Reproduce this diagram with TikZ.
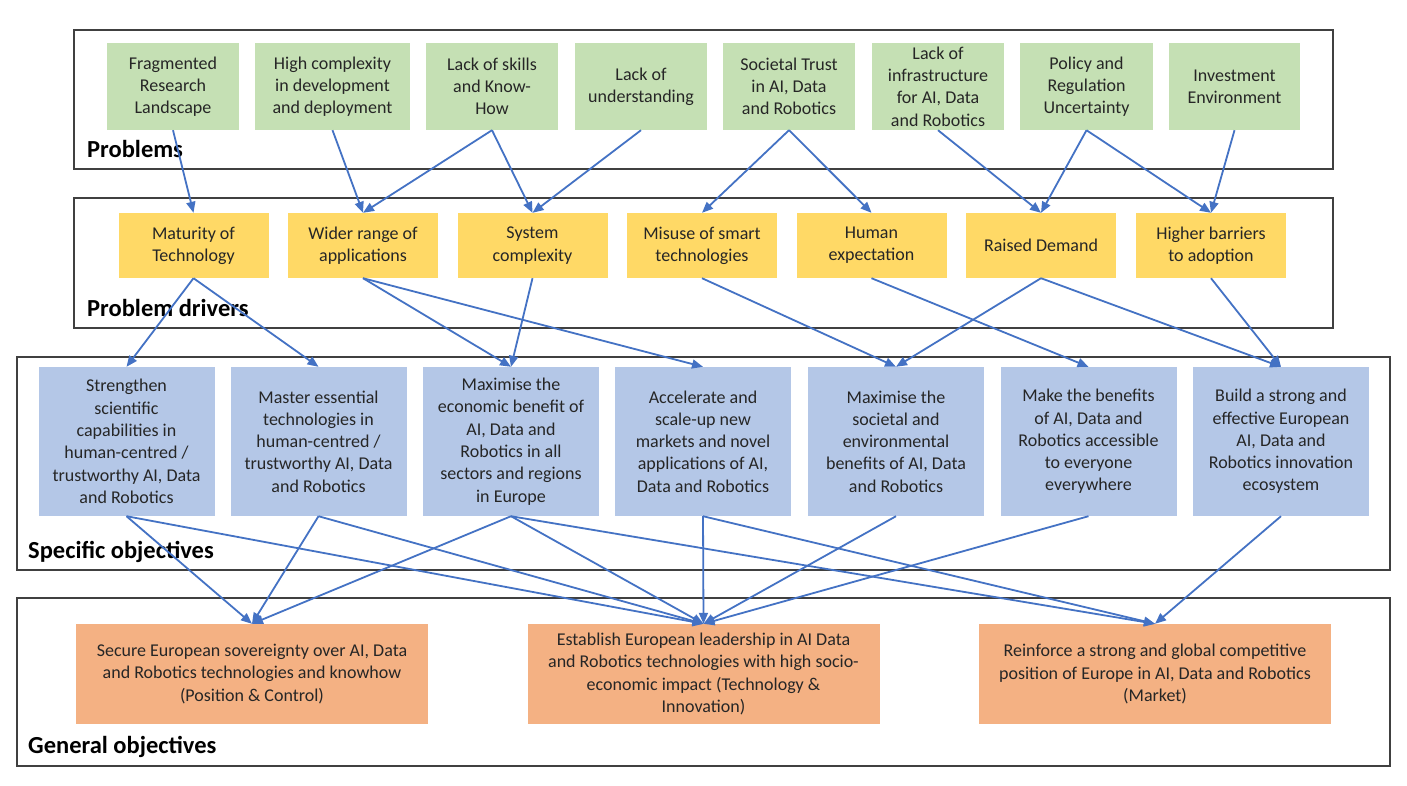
\documentclass[tikz,border=0pt]{standalone}
\usepackage{fontspec}
\setmainfont{Carlito}
\usetikzlibrary{arrows.meta}
\definecolor{pgreen}{HTML}{C5E0B4}
\definecolor{pyellow}{HTML}{FFD966}
\definecolor{pblue}{HTML}{B4C7E7}
\definecolor{porange}{HTML}{F4B183}
\definecolor{arrowblue}{HTML}{4472C4}
\definecolor{framegray}{HTML}{404040}
\definecolor{txt}{HTML}{262626}
\begin{document}
\begin{tikzpicture}[x=1pt,y=-1pt,
  boxbase/.style={rectangle, inner sep=0pt, align=center, text=txt,
    font=\fontsize{18}{22.3}\selectfont},
  probbox/.style={boxbase, fill=pgreen, minimum height=87pt, minimum width=132pt},
  drivbox/.style={boxbase, fill=pyellow, minimum height=65pt, minimum width=150pt},
  specbox/.style={boxbase, fill=pblue, minimum height=149pt, minimum width=176pt},
  genbox/.style={boxbase, fill=porange, minimum height=100pt, minimum width=352pt},
  panel/.style={draw=framegray, line width=1.6pt},
  panellabel/.style={anchor=base west, inner sep=0pt, text=black,
    font=\fontsize{24.5}{28}\selectfont\bfseries},
  link/.style={draw=arrowblue, line width=1.8pt,
    -{Triangle[length=11pt,width=9pt]}}
]
\useasboundingbox (0,0) rectangle (1407,785);
\fill[white] (0,0) rectangle (1407,785);

% panels
\draw[panel] (74,30) rectangle (1333,169);
\draw[panel] (74,198) rectangle (1333,328);
\draw[panel] (17,357) rectangle (1390,570);
\draw[panel] (17,598) rectangle (1390,766);

\node[panellabel] (lprob) at (87,157) {Problems};
\node[panellabel] (ldriv) at (87,316) {Problem drivers};
\node[panellabel] (lspec) at (28,558) {Specific objectives};
\node[panellabel] (lgen) at (28,753) {General objectives};

% problems
\node[probbox] (p1) at (173,86.5) {Fragmented\\Research\\Landscape};
\node[probbox, minimum width=155pt] (p2) at (332.5,86.5) {High complexity\\in development\\and deployment};
\node[probbox] (p3) at (492,86.5) {Lack of skills\\and Know-\\How};
\node[probbox] (p4) at (641,86.5) {Lack of\\understanding};
\node[probbox] (p5) at (789,86.5) {Societal Trust\\in AI, Data\\and Robotics};
\node[probbox] (p6) at (938,86.5) {Lack of\\infrastructure\\for AI, Data\\and Robotics};
\node[probbox, minimum width=133pt] (p7) at (1086.5,86.5) {Policy and\\Regulation\\Uncertainty};
\node[probbox, minimum width=131pt] (p8) at (1234.5,86.5) {Investment\\Environment};

% drivers
\node[drivbox] (d1) at (193.5,245.5) {Maturity of\\Technology};
\node[drivbox] (d2) at (363,245.5) {Wider range of\\applications};
\node[drivbox] (d3) at (532.5,245.5) {System\\complexity};
\node[drivbox] (d4) at (702,245.5) {Misuse of smart\\technologies};
\node[drivbox] (d5) at (871.5,245.5) {Human\\expectation};
\node[drivbox] (d6) at (1041,245.5) {Raised Demand};
\node[drivbox] (d7) at (1211,245.5) {Higher barriers\\to adoption};

% specific objectives
\node[specbox] (s1) at (126.5,441.5) {Strengthen\\scientific\\capabilities in\\human-centred /\\trustworthy AI, Data\\and Robotics};
\node[specbox] (s2) at (318.5,441.5) {Master essential\\technologies in\\human-centred /\\trustworthy AI, Data\\and Robotics};
\node[specbox] (s3) at (511,441.5) {Maximise the\\economic benefit of\\AI, Data and\\Robotics in all\\sectors and regions\\in Europe};
\node[specbox] (s4) at (703,441.5) {Accelerate and\\scale-up new\\markets and novel\\applications of AI,\\Data and Robotics};
\node[specbox] (s5) at (896,441.5) {Maximise the\\societal and\\environmental\\benefits of AI, Data\\and Robotics};
\node[specbox] (s6) at (1088.5,441.5) {Make the benefits\\of AI, Data and\\Robotics accessible\\to everyone\\everywhere};
\node[specbox] (s7) at (1281,441.5) {Build a strong and\\effective European\\AI, Data and\\Robotics innovation\\ecosystem};

% general objectives
\node[genbox] (g1) at (252,674) {Secure European sovereignty over AI, Data\\and Robotics technologies and knowhow\\(Position \& Control)};
\node[genbox] (g2) at (703.5,674) {Establish European leadership in AI Data\\and Robotics technologies with high socio-\\economic impact (Technology \&\\Innovation)};
\node[genbox] (g3) at (1155,674) {Reinforce a strong and global competitive\\position of Europe in AI, Data and Robotics\\(Market)};

% problems -> drivers
\foreach \a/\b in {p1/d1,p2/d2,p3/d2,p3/d3,p4/d3,p5/d4,p5/d5,p6/d6,p7/d6,p7/d7,p8/d7}
  \draw[link] (\a.south) -- (\b.north);
% drivers -> specific
\foreach \a/\b in {d1/s1,d1/s2,d2/s3,d2/s4,d3/s3,d4/s5,d5/s6,d6/s5,d6/s7,d7/s7}
  \draw[link] (\a.south) -- (\b.north);
% specific -> general
\foreach \a/\b in {s1/g1,s1/g2,s2/g1,s2/g2,s3/g1,s3/g2,s3/g3,s4/g2,s4/g3,s5/g2,s6/g2,s7/g3}
  \draw[link] (\a.south) -- (\b.north);
\end{tikzpicture}
\end{document}
